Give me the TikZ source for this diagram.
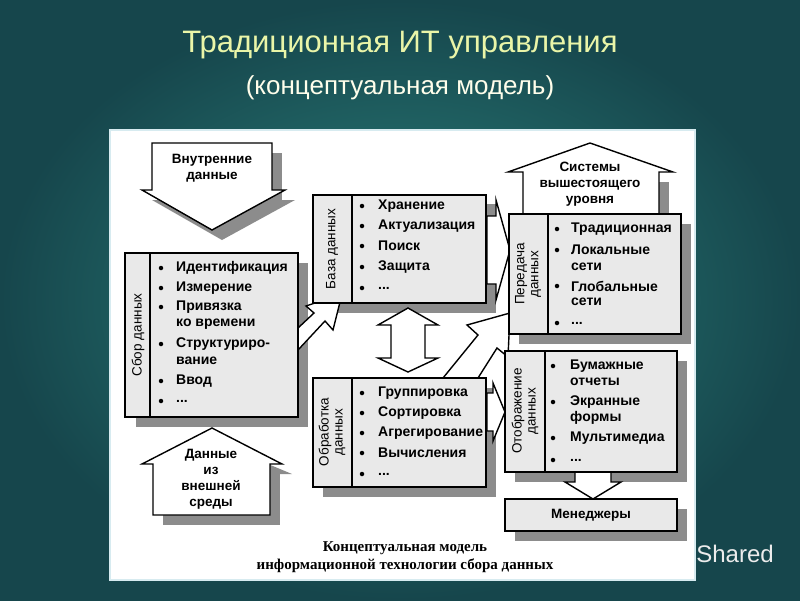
\documentclass[tikz,border=0pt]{standalone}
\usepackage{fontspec}
\setmainfont{Liberation Sans}
\newfontfamily\capfont{Liberation Serif}
\newcommand\mydots{...}
\tikzset{
 bx/.style={draw=black,line width=1.4pt,fill=boxgray},
 shd/.style={fill=shadowgray,draw=none},
 itm/.style={anchor=west,inner sep=0pt,font=\fontsize{14}{15}\selectfont\bfseries},
 lbl/.style={rotate=90,align=center,inner sep=0pt,font=\fontsize{13.5}{14}\selectfont},
 ttl/.style={align=center,font=\fontsize{13.5}{16}\selectfont\bfseries},
 arr/.style={draw=black,line width=1.4pt,fill=white,line join=miter},
 bul/.style={circle,fill=black,inner sep=0pt,minimum size=4.5pt}
}
\definecolor{boxgray}{HTML}{E9E9E9}
\definecolor{shadowgray}{HTML}{8C8C8C}
\definecolor{titlecol}{HTML}{EAF5A8}
\begin{document}
\begin{tikzpicture}[x=1pt,y=-1pt]
\useasboundingbox (0,0) rectangle (800,600);
\shade[inner color={rgb,255:red,44;green,132;blue,126},outer color={rgb,255:red,22;green,70;blue,76}] (0,0) rectangle (800,600);
\node[text=titlecol,font=\fontsize{31}{33}\selectfont] (t1) at (400,45) {Традиционная ИТ управления};
\node[text=white!92!yellow,font=\fontsize{26}{28}\selectfont] (t2) at (400,88) {(концептуальная модель)};
\fill[white,draw={rgb,255:red,215;green,235;blue,240},line width=2pt] (110,130) rectangle (695,580);

% shadows
\fill[shd] (162,153) rectangle (282,200);
\fill[shd] (162,200) -- (295,200) -- (222,240) -- (152,200) -- cycle;
\fill[shd] (136,263) rectangle (308,427);
\fill[shd] (325,204) rectangle (496,313);
\fill[shd] (323,388) rectangle (496,497);
\fill[shd] (519,224) rectangle (691,344);
\fill[shd] (515,361) rectangle (687,482);
\fill[shd] (515,509) rectangle (687,541);
\fill[shd] (533,182) rectangle (669,224);
\fill[shd] (163,474) rectangle (280,525);
\fill[shd] (268,464) -- (292,474) -- (268,474) -- cycle;

% Внутренние данные (down arrow)
\path[arr] (152,143) -- (272,143) -- (272,190) -- (285,190) -- (212,230) -- (142,190) -- (152,190) -- cycle;
\node[ttl] (vd) at (212,168) {Внутренние\\данные};

% Данные из внешней среды (house)
\path[arr] (153,515) -- (153,464) -- (142,464) -- (212,428) -- (282,464) -- (270,464) -- (270,515) -- cycle;
\node[ttl] (vs) at (211,479) {Данные\\из\\внешней\\среды};

% Системы вышестоящего уровня (house)
\path[arr] (523,214) -- (523,172) -- (508,172) -- (590,143) -- (673,172) -- (659,172) -- (659,214) -- cycle;
\node[ttl] (sv) at (590,184) {Системы\\вышестоящего\\уровня};

% arrows
\path[arr] (298,328) -- (314,313) -- (306,306) -- (342,294) -- (333,330) -- (325,321) -- (298,350) -- cycle;
\path[arr] (408,308) -- (438,325) -- (425,325) -- (425,358) -- (438,358) -- (408,372) -- (378,358) -- (391,358) -- (391,325) -- (378,325) -- cycle;
\path[arr] (443,378) -- (478,335) -- (467,325) -- (510,313) -- (508,357) -- (497,348) -- (478,378) -- cycle;
\path[arr] (487,216) -- (496,216) -- (496,200) -- (510,250) -- (496,300) -- (496,284) -- (487,284) -- cycle;
\path[arr] (487,393) -- (493,393) -- (493,383) -- (505,412) -- (493,441) -- (493,431) -- (487,431) -- cycle;
\path[arr] (575,472) -- (575,482) -- (565,482) -- (593,499) -- (621,482) -- (611,482) -- (611,472) -- cycle;

% boxes
\draw[bx] (125,253) rectangle (298,417); \draw[line width=1.4pt] (150,253) -- (150,417);
\draw[bx] (313,195) rectangle (486,303); \draw[line width=1.4pt] (352,195) -- (352,303);
\draw[bx] (313,378) rectangle (486,487); \draw[line width=1.4pt] (352,378) -- (352,487);
\draw[bx] (509,214) rectangle (681,334); \draw[line width=1.4pt] (548,214) -- (548,334);
\draw[bx] (505,351) rectangle (677,472); \draw[line width=1.4pt] (545,351) -- (545,472);
\draw[bx] (505,499) rectangle (677,531);
\node[ttl] (men) at (591,515) {Менеджеры};

\node[lbl] (l1) at (138,335) {Сбор данных};
\node[lbl] (l2) at (332,249) {База данных};
\node[lbl] (l3) at (332,432) {Обработка\\данных};
\node[lbl] (l4) at (528,274) {Передача\\данных};
\node[lbl] (l5) at (525,411) {Отображение\\данных};

% items
\foreach \y/\t/\b in {268/Идентификация/1,288/Измерение/1,307/Привязка/1,324/ко времени/0,344/Структуриро-/1,361/вание/0,381/Ввод/1,401/\mydots/1}
 {\node[itm] at (176,\y) {\t}; \ifnum\b=1 \node[bul] at (161,\y) {};\fi}
\foreach \y/\t in {206/Хранение,226/Актуализация,246/Поиск,267/Защита,288/\mydots}
 {\node[itm] at (378,\y) {\t}; \node[bul] at (362,\y) {};}
\foreach \y/\t in {393/Группировка,413/Сортировка,433/Агрегирование,453/Вычисления,474/\mydots}
 {\node[itm] at (378,\y) {\t}; \node[bul] at (362,\y) {};}
\foreach \y/\t/\b in {229/Традиционная/1,250/Локальные/1,267/сети/0,286/Глобальные/1,302/сети/0,323/\mydots/1}
 {\node[itm] at (571,\y) {\t}; \ifnum\b=1 \node[bul] at (557,\y) {};\fi}
\foreach \y/\t/\b in {366/Бумажные/1,382/отчеты/0,402/Экранные/1,418/формы/0,438/Мультимедиа/1,460/\mydots/1}
 {\node[itm] at (570,\y) {\t}; \ifnum\b=1 \node[bul] at (553,\y) {};\fi}

\node[font=\capfont\fontsize{15}{18}\selectfont\bfseries,align=center] (cap) at (405,557) {Концептуальная модель\\информационной технологии сбора данных};
\node[text=white!85!gray,font=\fontsize{24}{26}\selectfont] (sh) at (735,554) {Shared};
\end{tikzpicture}
\end{document}
